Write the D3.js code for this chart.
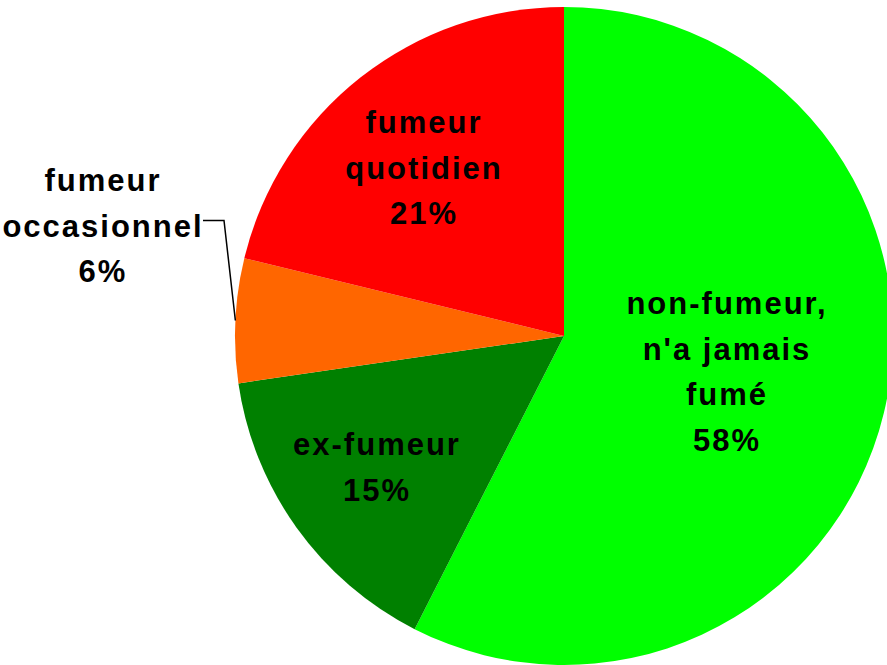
<!DOCTYPE html>
<html>
<head>
<meta charset="utf-8">
<script src="https://cdn.jsdelivr.net/npm/d3@7"></script>
<style>
  html, body { margin: 0; padding: 0; background: #ffffff; }
  svg { display: block; }
</style>
</head>
<body>
<svg id="chart" width="887" height="665"></svg>
<script>
// ---- data ----
const categories = ["non-fumeur, n'a jamais fumé", "ex-fumeur", "fumeur occasionnel", "fumeur quotidien"];
const values = [57.5, 15.2, 6.1, 21.2];
const percentLabels = ["58%", "15%", "6%", "21%"];
const labelLines = [
  ["non-fumeur,", "n'a jamais", "fumé"],
  ["ex-fumeur"],
  ["fumeur", "occasionnel"],
  ["fumeur", "quotidien"]
];
const colors = ["#00ff00", "#008000", "#ff6600", "#ff0000"];

// ---- layout ----
const W = 887, H = 665;
const cx = 564, cy = 336, R = 329;
const fontSize = 31, letterSpacing = 2, lineGap = 45.5;
// label block centre x and first baseline y
const labelPos = [
  {x: 726, y: 314},
  {x: 376, y: 455},
  {x: 102, y: 191},
  {x: 423, y: 133}
];
const outside = [false, false, true, false];

const svg = d3.select("#chart");
const g = svg.append("g").attr("transform", `translate(${cx},${cy})`);

const pie = d3.pie().sort(null).value(d => d)(values);
const arc = d3.arc().innerRadius(0).outerRadius(R);

g.selectAll("path.slice")
  .data(pie)
  .join("path")
  .attr("class", "slice")
  .attr("d", arc)
  .attr("fill", (d, i) => colors[i]);

// leader line for the outside label
pie.forEach((d, i) => {
  if (!outside[i]) return;
  const mid = (d.startAngle + d.endAngle) / 2;
  const px = cx + R * Math.sin(mid);
  const py = cy - R * Math.cos(mid);
  const lp = labelPos[i];
  const elbowY = lp.y + lineGap - 16;
  const textRight = lp.x + 101;
  const elbowX = textRight + 21;
  svg.append("polyline")
    .attr("points", `${textRight},${elbowY} ${elbowX},${elbowY} ${px},${py}`)
    .attr("fill", "none")
    .attr("stroke", "#000")
    .attr("stroke-width", 1.5);
});

// labels
pie.forEach((d, i) => {
  const lp = labelPos[i];
  const lines = labelLines[i].concat([percentLabels[i]]);
  const t = svg.append("text")
    .attr("text-anchor", "middle")
    .attr("font-family", "'Liberation Sans', Arial, sans-serif")
    .attr("font-weight", "bold")
    .attr("font-size", fontSize)
    .attr("letter-spacing", letterSpacing)
    .attr("fill", "#000");
  lines.forEach((ln, k) => {
    t.append("tspan")
      .attr("x", lp.x + letterSpacing / 2)
      .attr("y", lp.y + k * lineGap)
      .text(ln);
  });
});
</script>
</body>
</html>
